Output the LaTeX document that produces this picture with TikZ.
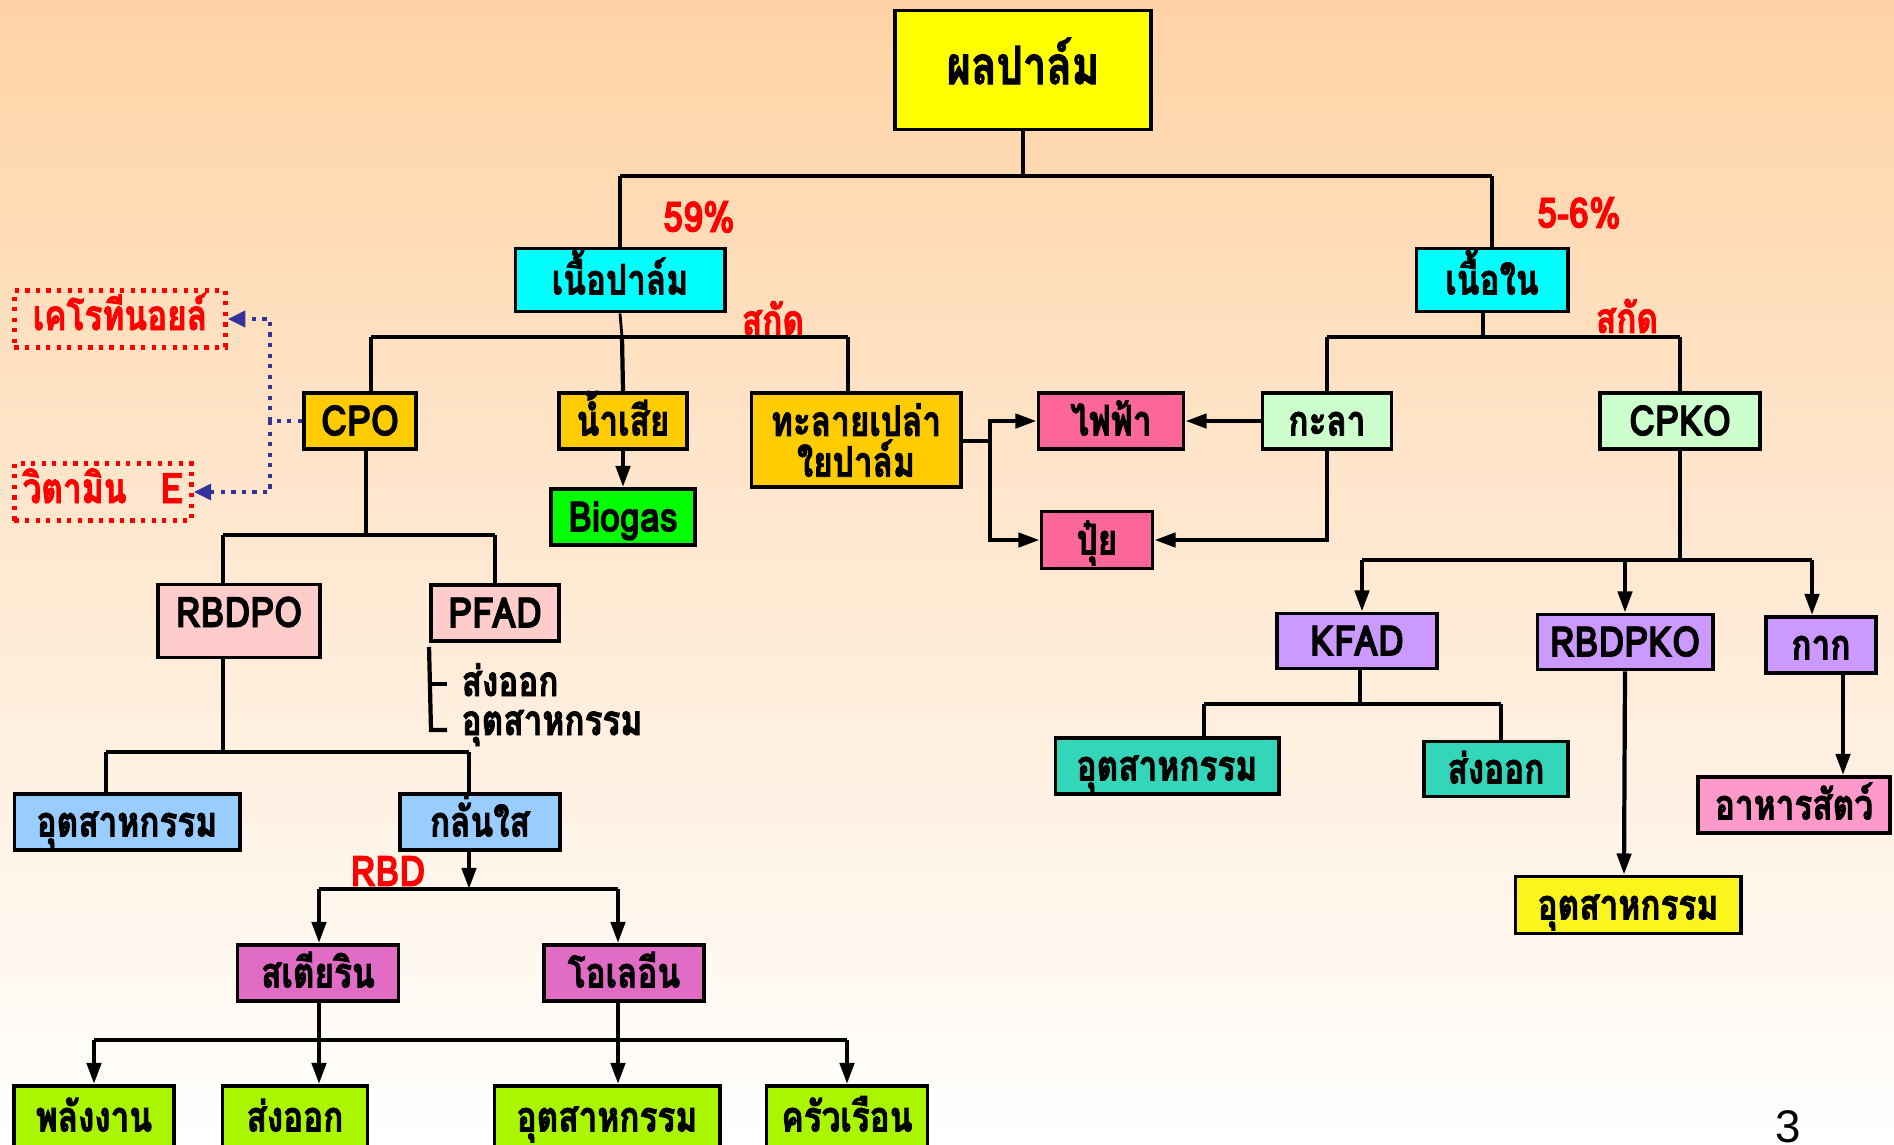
\documentclass[tikz,border=0pt]{standalone}
\usepackage{fontspec}
\setmainfont[Script=Thai,FakeStretch=0.79,BoldFeatures={FakeBold=1.8}]{Loma}
\newfontfamily\lat[FakeStretch=0.85,BoldFeatures={FakeBold=1.8}]{Loma}
\newfontfamily\numfont{Liberation Sans}
\usetikzlibrary{arrows.meta}
\definecolor{bgtop}{RGB}{255,211,165}
\definecolor{cYel}{HTML}{FFFF00}
\definecolor{cCyan}{HTML}{00FFFF}
\definecolor{cOrange}{HTML}{FFCC00}
\definecolor{cGreen}{HTML}{00FF00}
\definecolor{cRose}{HTML}{FF6699}
\definecolor{cMint}{HTML}{CCFFCC}
\definecolor{cPink}{HTML}{FFCCCC}
\definecolor{cBlue}{HTML}{99CCFF}
\definecolor{cOrchid}{HTML}{E06CC6}
\definecolor{cLime}{HTML}{AAF500}
\definecolor{cLilac}{HTML}{CC99FF}
\definecolor{cTeal}{HTML}{33D6B8}
\definecolor{cYel2}{HTML}{FAF51C}
\definecolor{cFeed}{HTML}{FF99CC}
\definecolor{cDot}{HTML}{333399}
\tikzset{
  box/.style={draw=black, line width=1.1pt, inner sep=0pt, align=center, text=black,
    font=\bfseries\fontsize{12}{15}\selectfont, text height=0.35cm, text depth=0.06cm},
  sz/.style 2 args={minimum width=#1cm, minimum height=#2cm},
  ln/.style={line width=1.2pt},
  hl/.style={line width=1.4pt},
  arr/.style={line width=1.2pt, -{Triangle[length=6pt,width=4pt]}},
  dots/.style={draw=cDot, line width=1.2pt, dash pattern=on 1.2pt off 1.8pt},
  dotarr/.style={dots, -{Triangle[length=5pt,width=4.5pt,fill=cDot]}},
  redbox/.style={draw=red, line width=1.2pt, dash pattern=on 1.2pt off 1.8pt, inner sep=0pt,
    text=red, font=\bfseries\fontsize{12}{15}\selectfont, text height=0.31cm, text depth=0.09cm},
  lab/.style={text=red, font=\bfseries\fontsize{12}{15}\selectfont},
  plain/.style={text=black, font=\bfseries\fontsize{12}{15}\selectfont, anchor=base west, inner sep=0pt}
}
\begin{document}
\begin{tikzpicture}[x=0.01cm,y=-0.01cm]
\useasboundingbox (0,0) rectangle (1894,1144);
\fill[top color=bgtop, bottom color=white] (0,0) rectangle (1894,1144);

% nodes
\node[box, fill=cYel, sz={2.56}{1.19}, font=\bfseries\fontsize{15}{18}\selectfont, text height=0.39cm, text depth=0.11cm] (top) at (1023,70) {ผลปาล์ม};
\node[box, fill=cCyan, sz={2.09}{0.63}] (nP) at (620,280) {เนื้อปาล์ม};
\node[box, fill=cCyan, sz={1.51}{0.63}] (nN) at (1492,280) {เนื้อใน};

\node[box, fill=cOrange, sz={1.12}{0.56}] (cpo) at (360,421) {\lat CPO};
\node[box, fill=cOrange, sz={1.28}{0.56}] (nam) at (623,421) {น้ำเสีย};
\node[box, fill=cOrange, sz={2.09}{0.94}, text height={}, text depth={}, font=\bfseries\fontsize{12}{10.5}\selectfont] (tala) at (856,440) {ทะลายเปล่า\\ใยปาล์ม};
\node[box, fill=cGreen, sz={1.44}{0.56}] (bio) at (623,517) {\lat Biogas};
\node[redbox, sz={2.11}{0.57}] (kero) at (120,319) {เคโรทีนอยล์};
\node[redbox, sz={1.77}{0.57}] (vit) at (103,492) {วิตามิน\hspace{0.8em}{\lat E}};

\node[box, fill=cRose, sz={1.45}{0.56}] (fai) at (1111,421) {ไฟฟ้า};
\node[box, fill=cRose, sz={1.11}{0.57}] (pui) at (1097,540) {ปุ๋ย};
\node[box, fill=cMint, sz={1.29}{0.56}] (kala) at (1327,421) {กะลา};
\node[box, fill=cMint, sz={1.60}{0.56}] (cpko) at (1680,421) {\lat CPKO};

\node[box, fill=cLilac, sz={1.60}{0.55}] (kfad) at (1357,641) {\lat KFAD};
\node[box, fill=cLilac, sz={1.75}{0.55}] (rbdpko) at (1625,642) {\lat RBDPKO};
\node[box, fill=cLilac, sz={1.10}{0.56}] (kak) at (1821,645) {กาก};
\node[box, fill=cTeal, sz={2.23}{0.56}] (ind1) at (1167,766) {อุตสาหกรรม};
\node[box, fill=cTeal, sz={1.44}{0.55}] (exp1) at (1496,769) {ส่งออก};
\node[box, fill=cYel2, sz={2.25}{0.57}] (ind2) at (1628,905) {อุตสาหกรรม};
\node[box, fill=cFeed, sz={1.92}{0.56}] (feed) at (1794,805) {อาหารสัตว์};

\node[box, fill=cPink, sz={1.62}{0.73}, text height=0.28cm, text depth=0.16cm] (rbdpo) at (239,621) {\lat RBDPO};
\node[box, fill=cPink, sz={1.28}{0.56}] (pfad) at (495,613) {\lat PFAD};
\node[plain] (exp3) at (461,696) {ส่งออก};
\node[plain] (ind5) at (461,735) {อุตสาหกรรม};

\node[box, fill=cBlue, sz={2.25}{0.56}] (ind3) at (127,822) {อุตสาหกรรม};
\node[box, fill=cBlue, sz={1.60}{0.56}] (klan) at (480,822) {กลั่นใส};
\node[box, fill=cOrchid, sz={1.61}{0.56}] (stea) at (318,973) {สเตียริน};
\node[box, fill=cOrchid, sz={1.60}{0.56}] (olein) at (624,973) {โอเลอีน};

\node[box, fill=cLime, sz={1.60}{0.62}] (pl) at (94,1117) {พลังงาน};
\node[box, fill=cLime, sz={1.45}{0.62}] (exp2) at (295,1117) {ส่งออก};
\node[box, fill=cLime, sz={2.25}{0.62}] (ind4) at (607,1117) {อุตสาหกรรม};
\node[box, fill=cLime, sz={1.61}{0.62}] (home) at (847,1117) {ครัวเรือน};

% labels
\node[lab] (p59) at (699,217) {\lat 59\%};
\node[lab] (p56) at (1579,213) {\lat 5-6\%};
\node[lab] (sk1) at (773,318) {สกัด};
\node[lab] (sk2) at (1627,316) {สกัด};
\node[lab] (rbd) at (388,871) {\lat RBD};
\node[font=\numfont\fontsize{13}{15}\selectfont] (pg) at (1788,1127) {3};

% connectors
\coordinate (j1) at (1023,176);
\draw[ln] (top.south) -- (j1);
\draw[ln] (nP.north) -- (nP.north |- j1);
\draw[hl] (nP.north |- j1) -- (nN.north |- j1);
\draw[ln] (nN.north |- j1) -- (nN.north);

\coordinate (c1) at (371,337);
\coordinate (c2) at (848,337);
\coordinate (c0) at (622,337);
\draw[line width=0.8pt] (nP.south) -- (c0);
\draw[ln] (c0) -- (nam.north);
\draw[ln] (cpo.north -| c1) -- (c1);
\draw[hl] (c1) -- (c2);
\draw[ln] (c2) -- (tala.north -| c2);
\draw[arr] (nam.south) -- (bio.north);

\coordinate (dv) at (270,421);
\draw[dots] (cpo.west) -- (dv);
\draw[dotarr] (dv) |- (kero.east);
\draw[dotarr] (dv) |- (vit.east);

\coordinate (t1) at (990,441);
\draw[ln] (tala.east |- t1) -- (t1);
\draw[arr] (t1) |- (fai.west);
\draw[arr] (t1) |- (pui.west);
\draw[arr] (kala.west) -- (fai.east);
\draw[arr] (kala.south) |- (pui.east);

\coordinate (j3) at (1483,337);
\draw[ln] (nN.south -| j3) -- (j3);
\draw[ln] (kala.north) -- (kala.north |- j3);
\draw[hl] (kala.north |- j3) -- (cpko.north |- j3);
\draw[ln] (cpko.north |- j3) -- (cpko.north);

\coordinate (k1) at (1362,560);
\coordinate (k3) at (1812,560);
\draw[ln] (cpko.south) -- (cpko.south |- k1);
\draw[hl] (k1) -- (k3);
\draw[arr] (k1) -- (kfad.north -| k1);
\draw[arr] (rbdpko.north |- k1) -- (rbdpko.north);
\draw[arr] (k3) -- (kak.north -| k3);

\coordinate (m0) at (1360,704);
\coordinate (m1) at (1204,704);
\coordinate (m2) at (1501,704);
\draw[ln] (kfad.south -| m0) -- (m0);
\draw[ln] (ind1.north -| m1) -- (m1);
\draw[hl] (m1) -- (m2);
\draw[ln] (m2) -- (exp1.north -| m2);
\draw[arr] (rbdpko.south) -- ([xshift=-0.04cm]ind2.north);
\draw[arr] ([xshift=0.22cm]kak.south) -- ([xshift=0.22cm]kak.south |- feed.north);

\coordinate (r0) at (366,535);
\coordinate (r1) at (223,535);
\coordinate (r2) at (495,535);
\draw[ln] (cpo.south -| r0) -- (r0);
\draw[ln] (rbdpo.north -| r1) -- (r1);
\draw[hl] (r1) -- (r2);
\draw[ln] (r2) -- (pfad.north -| r2);

\coordinate (q1) at (431,684);
\coordinate (q2) at (431,730);
\draw[ln] ([yshift=-0.04cm]pfad.south west) -- (q2) -- ++(16,0);
\draw[ln] (q1) -- ++(16,0);

\coordinate (s0) at (223,752);
\coordinate (s1) at (106,752);
\coordinate (s2) at (469,752);
\draw[ln] (rbdpo.south -| s0) -- (s0);
\draw[ln] (ind3.north -| s1) -- (s1);
\draw[hl] (s1) -- (s2);
\draw[ln] (s2) -- (klan.north -| s2);

\coordinate (u0) at (469,889);
\coordinate (u1) at (319,889);
\coordinate (u2) at (618,889);
\draw[arr] (klan.south -| u0) -- (u0);
\draw[hl] (u1) -- (u2);
\draw[arr] (u1) -- (stea.north -| u1);
\draw[arr] (u2) -- (olein.north -| u2);

\coordinate (b1) at (94,1040);
\coordinate (b4) at (847,1040);
\draw[hl] (b1) -- (b4);
\draw[arr] (b1) -- (pl.north);
\draw[arr] (b4) -- (home.north);
\draw[arr] (stea.south -| u1) -- (u1 |- exp2.north);
\draw[arr] (olein.south -| u2) -- (u2 |- ind4.north);
\end{tikzpicture}
\end{document}
